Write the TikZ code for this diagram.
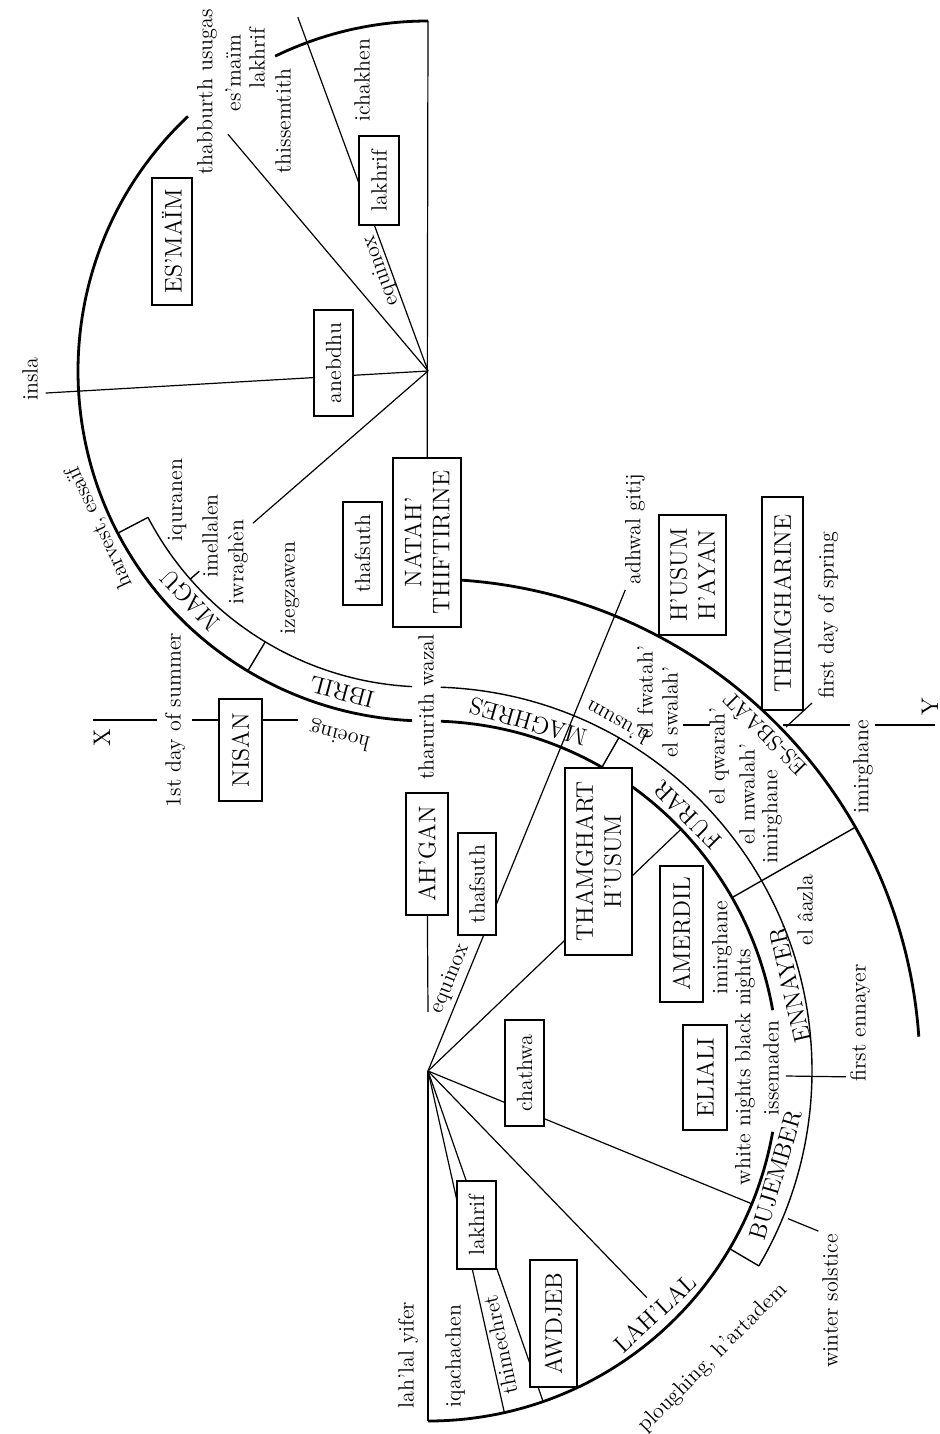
\documentclass[tikz,border=0pt]{standalone}
\usepackage{fontspec}
\usetikzlibrary{backgrounds}

\begin{document}
\begin{tikzpicture}[
    x=0.5pt, y=0.5pt,
    lowtext/.style={font=\fontsize{11}{13}\selectfont, inner sep=1pt},
    captext/.style={font=\fontsize{12}{14}\selectfont, inner sep=1pt},
    namebox/.style={captext, draw, fill=white, line width=0.6pt,
    align=center, rotate=90},
    wordbox/.style={lowtext, draw, fill=white, line width=1.4pt, rotate=90},
    rim/.style={line width=1.4pt},
    band/.style={line width=0.7pt},
    ray/.style={line width=0.6pt} ]

    \useasboundingbox (0,0) rectangle (940,-1434);

    % Centres of the two half circles
    \coordinate (c_up) at (428,-371);
    \coordinate (c_low) at (428,-1071);

    % Boxes of the upper half
    \node[namebox, minimum width=63.5pt, minimum height=20pt] (esmaim)
        at (172,-241.5) {ES’MAÏM};
    \node[wordbox, minimum width=53pt, minimum height=19.5pt] (anebdhu)
        at (333.5,-363) {anebdhu};
    \node[wordbox, minimum width=44.5pt, minimum height=20pt] (lakhrif_up)
        at (379,-180.5) {lakhrif};
    \node[namebox, minimum width=84.5pt, minimum height=34pt] (natah)
        at (427,-542.5) {NATAH’\\THIFTIRINE};
    \node[wordbox, minimum width=51.5pt, minimum height=19.5pt] (thafsuth_up)
        at (362.5,-553.5) {thafsuth};
    \node[namebox, minimum width=51pt, minimum height=21.5pt] (nisan)
        at (240.5,-750) {NISAN};

    % Boxes of the lower half
    \node[namebox, minimum width=61pt, minimum height=21pt] (ahgan)
        at (427,-854) {AH’GAN};
    \node[wordbox, minimum width=51pt, minimum height=19pt] (thafsuth_low)
        at (477,-884) {thafsuth};
    \node[namebox, minimum width=93.5pt, minimum height=33.5pt] (thamghart)
        at (598.5,-861.5) {THAMGHART\\H’USUM};
    \node[namebox, minimum width=60pt, minimum height=33.5pt] (husum)
        at (692.5,-575) {H’USUM\\H’AYAN};
    \node[namebox, minimum width=106.5pt, minimum height=20.5pt] (thimgharine)
        at (782.5,-603.5) {THIMGHARINE};
    \node[namebox, minimum width=68pt, minimum height=21.5pt] (amerdil)
        at (681.5,-934) {AMERDIL};
    \node[namebox, minimum width=52.5pt, minimum height=22pt] (eliali)
        at (705,-1077.5) {ELIALI};
    \node[wordbox, minimum width=53pt, minimum height=19.5pt] (chathwa)
        at (524.5,-1073) {chathwa};
    \node[wordbox, minimum width=44pt, minimum height=19.5pt] (lakhrif_low)
        at (476.5,-1225) {lakhrif};
    \node[namebox, minimum width=63.5pt, minimum height=23.5pt] (awdjeb)
        at (553.5,-1323.5) {AWDJEB};

    % Words of the upper half
    \node[lowtext, rotate=90] (thabburth) at (207,-92) {thabburth usugas};
    \node[lowtext, rotate=90] (esmaim_w) at (233,-73) {es’maïm};
    \node[lowtext, rotate=90] (lakhrif_w) at (257,-58) {lakhrif};
    \node[lowtext, rotate=90] (thissemtith) at (283,-121) {thissemtith};
    \node[lowtext, rotate=90] (ichakhen) at (362,-80) {ichakhen};
    \node[lowtext, rotate=90] (insla) at (30,-379) {insla};
    \node[lowtext, rotate=110] (equinox_up) at (381,-271) {equinox};
    \node[lowtext, rotate=115] (harvest) at (100,-527) {harvest, essaïf};
    \node[captext, rotate=134] (magu) at (190,-600) {MAGU};
    \node[lowtext, rotate=90] (iquranen) at (177,-500) {iquranen};
    \node[lowtext, rotate=90] (imellalen) at (210,-536) {imellalen};
    \node[lowtext, rotate=90] (iwraghen) at (238,-562) {iwraghèn};
    \node[lowtext, rotate=90] (izegzawen) at (290,-588) {izegzawen};
    \node[captext, rotate=165] (ibril) at (342,-692) {IBRIL};
    \node[lowtext, rotate=166] (hoeing) at (340,-735) {hoeing};
    \node[lowtext, rotate=90] (summer) at (175,-720) {1st day of summer};
    \node[lowtext, rotate=90] (tharurith) at (426,-707) {tharurith wazal};
    \node[captext, rotate=90] (x_lbl) at (102,-738) {X};

    % Words of the lower half
    \node[captext, rotate=164] (maghres) at (528,-722) {MAGHRES};
    \node[lowtext, rotate=151.5] (husum_w) at (617,-723) {h’usum};
    \node[lowtext, rotate=90] (fwatah) at (645,-692) {el fwatah’};
    \node[lowtext, rotate=90] (swalah) at (670,-712) {el swalah’};
    \node[lowtext, rotate=90] (qwarah) at (719,-756) {el qwarah’};
    \node[lowtext, rotate=90] (mwalah) at (747,-794) {el mwalah’};
    \node[lowtext, rotate=90] (imirghane_a) at (772,-817) {imirghane};
    \node[captext, font=\fontsize{11}{13}\selectfont, rotate=135] (essbaat)
        at (764,-735) {ES-SBAÂT};
    \node[lowtext, rotate=90] (imirghane_b) at (863,-767) {imirghane};
    \node[lowtext, rotate=90] (spring) at (828,-615) {first day of spring};
    \node[captext, rotate=90] (y_lbl) at (930,-707) {Y};
    \node[lowtext, rotate=90] (adhwal) at (635,-529) {adhwal gitij};
    \node[captext, rotate=135] (furar) at (687,-815) {FURAR};
    \node[lowtext, rotate=90] (aazla) at (805,-910) {el âazla};
    \node[lowtext, rotate=90] (imirghane_c) at (722,-948) {imirghane};
    \node[lowtext, rotate=90] (nights) at (745,-1067)
        {white nights black nights};
    \node[lowtext, rotate=90] (issemaden) at (771,-1068) {issemaden};
    \node[captext, rotate=103] (ennayer) at (790,-985) {ENNAYER};
    \node[lowtext, rotate=90] (first_ennayer) at (860,-1023) {first ennayer};
    \node[captext, rotate=73.5] (bujember) at (776,-1175) {BUJEMBER};
    \node[lowtext, rotate=90] (solstice) at (830,-1301) {winter solstice};
    \node[captext, rotate=43] (lahlal) at (655,-1313) {LAH’LAL};
    \node[lowtext, rotate=45] (ploughing) at (713,-1358)
        {ploughing, h’artadem};
    \node[lowtext, rotate=102] (thimechret) at (500,-1345) {thimechret};
    \node[lowtext, rotate=90] (iqachachen) at (455,-1356) {iqachachen};
    \node[lowtext, rotate=90] (yifer) at (408,-1355) {lah’lal yifer};
    \node[lowtext, rotate=67.7] (equinox_low) at (450,-979) {equinox};

    \begin{scope}[on background layer]
    % Upper half circle and its band
    \draw[rim] (c_up) ++(90:350) arc[start angle=90, end angle=115.9, radius=350];
    \draw[rim] (c_up) ++(133.3:350) arc[start angle=133.3, end angle=267.4, radius=350];
    \draw[band] (c_up) ++(207.6:316) arc[start angle=207.6, end angle=267.1, radius=316];
    \draw[band] (c_up) ++(207.6:316) -- ++(207.6:34);
    \draw[band] (c_up) ++(239:316) -- ++(239:34);
    \draw[band] (c_up) ++(221.2:304) -- ++(221.2:12);

    % Rays of the upper half
    \draw[ray] (c_up) ++(90:350) -- (natah);
    \draw[ray] (c_up) -- ++(110.2:377);
    \draw[ray] (c_up) -- ++(130.2:310);
    \draw[ray] (c_up) -- ++(183.3:383);
    \draw[ray] (c_up) -- ++(221:232);

    % Lower half circle, its band and the outer arc
    \draw[rim] (c_low) ++(87.9:350) arc[start angle=87.9, end angle=10, radius=350];
    \draw[rim] (c_low) ++(-10:350) arc[start angle=-10, end angle=-90, radius=350];
    \draw[band] (c_low) ++(88.1:384) arc[start angle=88.1, end angle=-30.5, radius=384];
    \draw[rim] (c_low) ++(88:492) arc[start angle=88, end angle=4, radius=492];
    \draw[band] (c_low) ++(60.2:350) -- ++(60.2:34);
    \draw[band] (c_low) ++(29.7:350) -- ++(29.7:142);
    \draw[band] (c_low) ++(-30.5:350) -- ++(-30.5:34);
    \draw[ray] (c_low) ++(-0.8:358) -- ++(-0.8:60);

    % Rays of the lower half
    \draw[ray] (ahgan) -- (428,-1012);
    \draw[ray] (c_low) -- ++(0,-350);
    \draw[ray] (c_low) -- ++(67.7:520);
    \draw[ray] (c_low) -- ++(43.7:350);
    \draw[ray] (c_low) -- ++(-22.3:350);
    \draw[ray] (c_low) ++(-22.3:389) -- ++(-22.3:33);
    \draw[ray] (c_low) -- ++(-46:315);
    \draw[ray] (c_low) -- ++(-70.8:350);
    \draw[ray] (c_low) -- ++(-77.4:350);

    % Axis X--Y
    \draw[ray] (93,-720) -- (157,-720);
    \draw[ray] (192,-720) -- (298,-720);
    \draw[ray] (683,-725) -- (710,-725);
    \draw[band] (783,-725) -- (850,-725);
    \draw[ray] (875,-725) -- (935,-725);
    \draw[ray] (786,-727) -- (812,-703);
    \end{scope}

\end{tikzpicture}
\end{document}
